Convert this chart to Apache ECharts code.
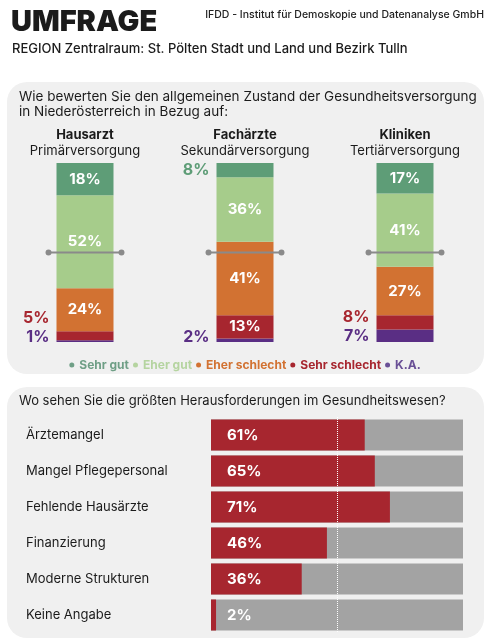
<!DOCTYPE html>
<html>
<head>
<meta charset="utf-8">
<script src="https://cdn.jsdelivr.net/npm/echarts@6.0.0/dist/echarts.min.js"></script>
<style>
html,body{margin:0;padding:0;background:#fff;}
#chart{width:490px;height:640px;}
</style>
</head>
<body>
<div id="chart"></div>
<script>
// Zustand der Gesundheitsversorgung (Anteile in %)
var bereiche = ['Hausarzt', 'Fachärzte', 'Kliniken'];
var ebenen = ['Primärversorgung', 'Sekundärversorgung', 'Tertiärversorgung'];
var sehrGut = [18, 8, 17];
var eherGut = [52, 36, 41];
var eherSchlecht = [24, 41, 27];
var sehrSchlecht = [5, 13, 8];
var keineAngabe = [1, 2, 7];

// Herausforderungen im Gesundheitswesen (in %)
var themen = ['Ärztemangel', 'Mangel Pflegepersonal', 'Fehlende Hausärzte', 'Finanzierung', 'Moderne Strukturen', 'Keine Angabe'];
var anteile = [61, 65, 71, 46, 36, 2];

var farben = {
    sehrGut: '#5e9d77',
    eherGut: '#a6cc8b',
    eherSchlecht: '#d27232',
    sehrSchlecht: '#a7262f',
    ka: '#5a2e84'
};
var schrift = 'Inter, "Noto Sans", sans-serif';

var myChart = echarts.init(document.getElementById('chart'));

//kleine Werte kommen links neben den Balken
function stapel(name, werte, farbe, layout){
    return {
        name: name,
        type: 'bar',
        stack: 'zustand',
        xAxisIndex: 0,
        yAxisIndex: 0,
        barWidth: 57,
        itemStyle: { color: farbe },
        label: {
            show: true,
            position: 'inside',
            color: '#fff',
            fontWeight: 'bold',
            fontSize: 15,
            formatter: '{c}%'
        },
        labelLayout: layout,
        data: werte.map(function(v){
            if (v < 10) {
                return { value: v, label: { position: 'left', distance: 7, color: farbe, fontSize: 16 } };
            }
            return v;
        })
    };
}

//K.A.-Label nicht unter den Balken rutschen lassen
function kaLayout(p){
    if (keineAngabe[p.dataIndex] >= 10) return {};
    var cy = p.rect.y + p.rect.height / 2;
    var y = Math.min(cy, p.rect.y + p.rect.height - 5);
    return { dy: y - cy };
}
//Sehr-schlecht-Label über das K.A.-Label schieben
function schlechtLayout(p){
    var v = sehrSchlecht[p.dataIndex];
    var k = keineAngabe[p.dataIndex];
    if (v >= 10 || k >= 10) return {};
    var proWert = p.rect.height / v;
    var unten = p.rect.y + p.rect.height;
    var kaY = Math.min(unten + k * proWert / 2, unten + k * proWert - 5);
    var cy = unten - p.rect.height / 2;
    var y = Math.min(cy, kaY - 19);
    return { dy: y - cy };
}

var legendeFarben = ['#6f9f86', '#b5d4a0', '#d27232', '#a7262f', '#6a5096'];
var legendeNamen = ['Sehr gut', 'Eher gut', 'Eher schlecht', 'Sehr schlecht', 'K.A.'];

myChart.setOption({
    textStyle: { fontFamily: schrift },
    animation: false,
    graphic: [
        { type: 'rect', z: -10, shape: { x: 7, y: 82, width: 477, height: 292, r: 20 }, style: { fill: '#f0f0f0' } },
        { type: 'rect', z: -10, shape: { x: 7, y: 387, width: 477, height: 251, r: 20 }, style: { fill: '#f0f0f0' } }
    ],
    title: [
        { text: 'UMFRAGE', left: 11, top: 8, padding: 0,
          textStyle: { fontSize: 29, fontWeight: 900, color: '#1b1b1b', fontFamily: schrift } },
        { text: 'IFDD - Institut für Demoskopie und Datenanalyse GmbH', right: 6, top: 9, padding: 0,
          textStyle: { fontSize: 10.5, fontWeight: 500, color: '#222', fontFamily: schrift } },
        { text: 'REGION Zentralraum: St. Pölten Stadt und Land und Bezirk Tulln', left: 12, top: 43, padding: 0,
          textStyle: { fontSize: 13, fontWeight: 500, color: '#1b1b1b', fontFamily: schrift } },
        { text: 'Wie bewerten Sie den allgemeinen Zustand der Gesundheitsversorgung\nin Niederösterreich in Bezug auf:',
          left: 19, top: 89, padding: 0,
          textStyle: { fontSize: 13.5, fontWeight: 'normal', lineHeight: 15.5, color: '#1b1b1b', fontFamily: schrift } },
        { text: 'Wo sehen Sie die größten Herausforderungen im Gesundheitswesen?', left: 19, top: 395, padding: 0,
          textStyle: { fontSize: 13, fontWeight: 'normal', color: '#1b1b1b', fontFamily: schrift } }
    ],
    legend: {
        top: 354,
        left: 'center',
        icon: 'circle',
        itemWidth: 5,
        itemHeight: 5,
        itemGap: 4,
        textStyle: { fontSize: 12, fontWeight: 'bold' },
        data: legendeNamen.map(function(n, i){
            return { name: n, itemStyle: { color: legendeFarben[i] }, textStyle: { color: legendeFarben[i] } };
        })
    },
    grid: [
        { left: 5, right: 5, top: 163, bottom: 298 },
        { left: 211, right: 27, top: 417, bottom: 7 }
    ],
    xAxis: [
        {
            gridIndex: 0,
            type: 'category',
            position: 'top',
            data: bereiche,
            axisLine: { show: false },
            axisTick: { show: false },
            axisLabel: {
                interval: 0,
                margin: 4,
                formatter: function(value, idx){
                    return '{b|' + value + '}\n{n|' + ebenen[idx] + '}';
                },
                rich: {
                    b: { fontSize: 13, fontWeight: 'bold', color: '#1b1b1b', lineHeight: 16, fontFamily: schrift },
                    n: { fontSize: 13, color: '#1b1b1b', lineHeight: 16, fontFamily: schrift }
                }
            }
        },
        { gridIndex: 1, type: 'value', min: 0, max: 100, show: false }
    ],
    yAxis: [
        { gridIndex: 0, type: 'value', min: 0, max: 100, show: false },
        {
            gridIndex: 1,
            type: 'category',
            inverse: true,
            data: themen,
            axisLine: { show: false },
            axisTick: { show: false },
            axisLabel: { align: 'left', margin: 185, fontSize: 13, color: '#1b1b1b' }
        }
    ],
    series: [
        stapel('K.A.', keineAngabe, farben.ka, kaLayout),
        stapel('Sehr schlecht', sehrSchlecht, farben.sehrSchlecht, schlechtLayout),
        stapel('Eher schlecht', eherSchlecht, farben.eherSchlecht),
        stapel('Eher gut', eherGut, farben.eherGut),
        stapel('Sehr gut', sehrGut, farben.sehrGut),
        {
            //50%-Markierung
            type: 'custom',
            xAxisIndex: 0,
            yAxisIndex: 0,
            z: 5,
            silent: true,
            data: bereiche.map(function(b, i){ return [i, 50]; }),
            renderItem: function(params, api){
                var p = api.coord([api.value(0), api.value(1)]);
                var half = api.size([1, 0])[0] * 0.228;
                return {
                    type: 'group',
                    children: [
                        { type: 'line', shape: { x1: p[0] - half, y1: p[1], x2: p[0] + half, y2: p[1] },
                          style: { stroke: '#8a8a8a', lineWidth: 2 } },
                        { type: 'circle', shape: { cx: p[0] - half, cy: p[1], r: 3 }, style: { fill: '#8a8a8a' } },
                        { type: 'circle', shape: { cx: p[0] + half, cy: p[1], r: 3 }, style: { fill: '#8a8a8a' } }
                    ]
                };
            }
        },
        {
            name: 'Herausforderungen',
            type: 'bar',
            xAxisIndex: 1,
            yAxisIndex: 1,
            barWidth: 31,
            data: anteile,
            itemStyle: { color: '#a7262f' },
            showBackground: true,
            backgroundStyle: { color: '#a3a3a3' },
            label: {
                show: true,
                position: 'insideLeft',
                distance: 16,
                color: '#fff',
                fontWeight: 'bold',
                fontSize: 15,
                formatter: '{c}%'
            },
            markLine: {
                silent: true,
                symbol: 'none',
                label: { show: false },
                lineStyle: { color: '#fff', type: 'dotted', width: 1 },
                data: [{ xAxis: 50 }]
            }
        }
    ]
});
</script>
</body>
</html>
